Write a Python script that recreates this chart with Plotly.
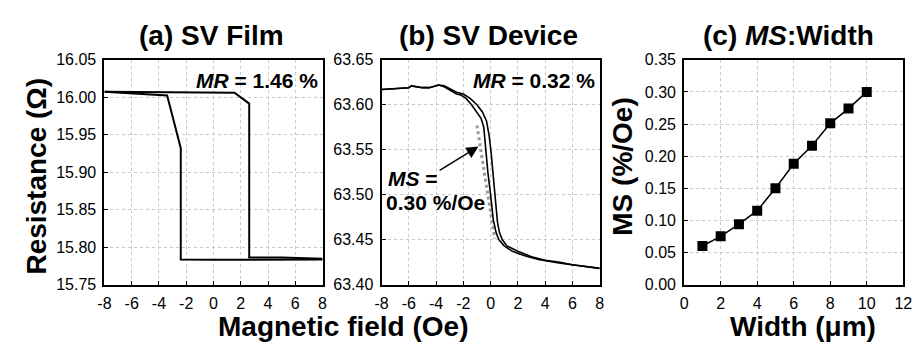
import plotly.graph_objects as go

# ---------------- data ----------------
# (a) SV film hysteresis loop (field in Oe, resistance in Ohm)
field_a_up = [-8, -4, 0, 1.54, 2.62, 2.62, 5, 8]
res_a_up = [16.0072, 16.0068, 16.0065, 16.006, 15.9915, 15.786, 15.786, 15.7845]
field_a_down = [8, 5, 2.62, 0, -2.4, -2.4, -3.4, -6.5, -8]
res_a_down = [15.7835, 15.7832, 15.783, 15.783, 15.7835, 15.932, 16.0025, 16.006, 16.0075]

# (b) SV device, two field sweeps
field_b1 = [-8, -7, -6, -5.8, -5, -4.5, -3.8, -3.4, -3, -2.5, -2.2, -1.8, -1.4, -1.0, -0.7,
            -0.5, -0.4, -0.2, 0.0, 0.2, 0.4, 0.6, 1.0, 1.6, 2.5, 3.5, 5, 6, 7, 8]
res_b1 = [63.617, 63.618, 63.619, 63.621, 63.619, 63.619, 63.622, 63.620, 63.616, 63.612,
          63.611, 63.607, 63.600, 63.592, 63.585, 63.575, 63.555, 63.525, 63.500, 63.472,
          63.458, 63.450, 63.443, 63.437, 63.432, 63.428, 63.424, 63.422, 63.420, 63.418]
field_b2 = [-8, -7, -6, -5.8, -5, -4.5, -3.8, -3.4, -3, -2.5, -2, -1.5, -1, -0.6, -0.3, -0.1,
            0.05, 0.2, 0.35, 0.5, 0.65, 0.85, 1.2, 2, 3, 4, 5, 6, 7, 8]
res_b2 = [63.617, 63.618, 63.619, 63.621, 63.619, 63.619, 63.622, 63.621, 63.618, 63.614,
          63.612, 63.607, 63.600, 63.592, 63.582, 63.565, 63.545, 63.520, 63.495, 63.470,
          63.458, 63.450, 63.443, 63.437, 63.431, 63.427, 63.425, 63.422, 63.420, 63.418]
field_tangent = [-1.0, 0.3]
res_tangent = [63.577, 63.451]

# (c) MS vs width
width_um = [1, 2, 3, 4, 5, 6, 7, 8, 9, 10]
ms_vals = [0.060, 0.075, 0.094, 0.115, 0.150, 0.188, 0.216, 0.251, 0.274, 0.300]

# tick labels
field_ticks = [-8, -6, -4, -2, 0, 2, 4, 6, 8]
field_ticktext = ["-8", "-6", "-4", "-2", "0", "2", "4", "6", "8"]
width_ticks = [0, 2, 4, 6, 8, 10, 12]
res_a_ticks = [15.75, 15.80, 15.85, 15.90, 15.95, 16.00, 16.05]
res_b_ticks = [63.40, 63.45, 63.50, 63.55, 63.60, 63.65]
ms_ticks = [0.00, 0.05, 0.10, 0.15, 0.20, 0.25, 0.30, 0.35]

titles = ["(a) SV Film", "(b) SV Device", "(c) <i>MS</i>:Width"]

# ---------------- layout helpers ----------------
W, H = 920, 356
def px(x):
    return x / W
def py(y):
    return 1 - y / H

FONT = "Liberation Sans, Arial, sans-serif"
dom_a = [px(91), px(313)]
dom_b = [px(373), px(595)]
dom_c = [px(681), px(904)]
dom_y = [py(282), py(46)]

fig = go.Figure()
line_black = dict(color="black", width=2)
fig.add_trace(go.Scatter(x=field_a_up, y=res_a_up, mode="lines", line=line_black, xaxis="x", yaxis="y"))
fig.add_trace(go.Scatter(x=field_a_down, y=res_a_down, mode="lines", line=line_black, xaxis="x", yaxis="y"))
fig.add_trace(go.Scatter(x=field_tangent, y=res_tangent, mode="lines",
                         line=dict(color="#9a9a9a", width=3, dash="dot"), xaxis="x2", yaxis="y2"))
fig.add_trace(go.Scatter(x=field_b1, y=res_b1, mode="lines", line=dict(color="black", width=1.6), xaxis="x2", yaxis="y2"))
fig.add_trace(go.Scatter(x=field_b2, y=res_b2, mode="lines", line=dict(color="black", width=1.6), xaxis="x2", yaxis="y2"))
fig.add_trace(go.Scatter(x=width_um, y=ms_vals, mode="lines+markers",
                         line=dict(color="black", width=1.5),
                         marker=dict(symbol="square", size=10, color="black"),
                         xaxis="x3", yaxis="y3"))

axis_common = dict(showline=True, linewidth=2, linecolor="black", mirror=True,
                   ticks="inside", ticklen=4, tickwidth=1, tickcolor="black",
                   showgrid=True, gridcolor="#c8c8c8", griddash="dot", gridwidth=1,
                   zeroline=False, ticklabelstandoff=3,
                   tickfont=dict(family=FONT, size=16, color="black"))

fig.update_layout(
    width=W, height=H, margin=dict(l=0, r=0, t=0, b=0),
    paper_bgcolor="white", plot_bgcolor="white", showlegend=False,
    font=dict(family=FONT, color="black"),
    xaxis=dict(domain=dom_a, range=[-8, 8], tickvals=field_ticks, ticktext=field_ticktext, anchor="y", **axis_common),
    yaxis=dict(domain=dom_y, range=[15.75, 16.05], tickvals=res_a_ticks, tickformat=".2f", anchor="x", **axis_common),
    xaxis2=dict(domain=dom_b, range=[-8, 8], tickvals=field_ticks, ticktext=field_ticktext, anchor="y2", **axis_common),
    yaxis2=dict(domain=dom_y, range=[63.40, 63.65], tickvals=res_b_ticks, tickformat=".2f", anchor="x2", **axis_common),
    xaxis3=dict(domain=dom_c, range=[0, 12], tickvals=width_ticks, anchor="y3", **axis_common),
    yaxis3=dict(domain=dom_y, range=[0, 0.35], tickvals=ms_ticks, tickformat=".2f", anchor="x3", **axis_common),
)

ann = []
def text(x, y, t, size, bold=True, xanchor="center", angle=0):
    ann.append(dict(x=px(x), y=py(y), xref="paper", yref="paper", text=f"<b>{t}</b>" if bold else t,
                    showarrow=False, xanchor=xanchor, yanchor="middle", textangle=angle,
                    font=dict(family=FONT, size=size, color="black")))

text(200, 21, titles[0], 28)
text(482, 21, titles[1], 28)
text(787, 21, titles[2], 28)
text(22, 168, "Resistance (Ω)", 28, angle=-90)
text(618, 158, "MS (%/Oe)", 28, angle=-90)
text(334, 326, "Magnetic field (Oe)", 28)
text(802, 326, "Width (μm)", 28)
text(310, 68, "<i>MR</i> = 1.46 %", 21, xanchor="right")
text(592, 68, "<i>MR</i> = 0.32 %", 21, xanchor="right")
text(378, 171, "<i>MS</i> =", 21, xanchor="left")
text(376, 196, "0.30 %/Oe", 21, xanchor="left")

ann.append(dict(x=-0.89, y=63.5535, xref="x2", yref="y2", ax=-3.85, ay=63.526,
                axref="x2", ayref="y2", showarrow=True, arrowhead=2, arrowsize=1.6,
                arrowwidth=1.5, arrowcolor="black", text=""))
fig.update_layout(annotations=ann)

fig.write_html("out.html")
